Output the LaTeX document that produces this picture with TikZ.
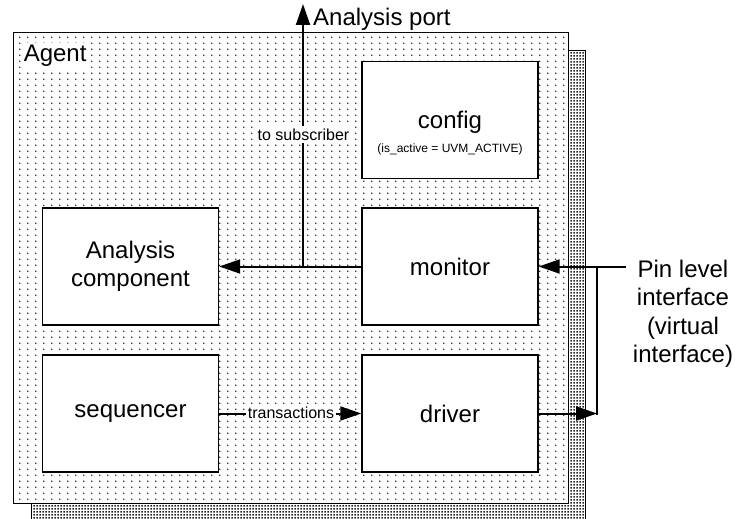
\documentclass[tikz,border=0pt]{standalone}
\usepackage{fontspec}
\setmainfont{Liberation Sans}
\usetikzlibrary{arrows.meta,patterns,calc}

% sparse dot texture for the agent panel
\pgfdeclarepatternformonly{agentdots}{\pgfpointorigin}{\pgfpoint{8.3pt}{5.8pt}}{\pgfpoint{8.3pt}{5.8pt}}{%
  \pgfpathrectangle{\pgfpoint{3.5pt}{2.2pt}}{\pgfpoint{1.2pt}{1.2pt}}%
  \pgfusepath{fill}}
% dense dot texture for the panel behind it
\pgfdeclarepatternformonly{stackdots}{\pgfpointorigin}{\pgfpoint{3pt}{3pt}}{\pgfpoint{3pt}{3pt}}{%
  \pgfpathrectangle{\pgfpoint{0.5pt}{0.5pt}}{\pgfpoint{1.9pt}{1.9pt}}%
  \pgfusepath{fill}}

\newcommand{\sizemain}{\fontsize{24}{28.5}\selectfont}
\newcommand{\sizetag}{\fontsize{16}{19}\selectfont}
\newcommand{\sizenote}{\fontsize{12}{14}\selectfont}

\begin{document}
\begin{tikzpicture}[x=1pt,y=-1pt,
  panel/.style={draw=black, line width=1.4pt, preaction={fill=white}},
  unit/.style={draw=black, line width=1.4pt, fill=white, minimum width=176pt,
    minimum height=117pt, inner sep=0pt, align=center, font=\sizemain},
  conn/.style={line width=2pt},
  arr/.style={conn, -{Triangle[length=21pt,width=14pt]}},
  tag/.style={fill=white, inner sep=2.5pt, font=\sizetag}]

\useasboundingbox (0,0) rectangle (736,519);

% stacked panels
\node[panel, pattern=stackdots, pattern color=black!85, minimum width=554pt,
  minimum height=490pt, inner sep=0pt, anchor=north west] (stack) at (31,50) {};
\node[panel, pattern=agentdots, pattern color=black!80, minimum width=555pt,
  minimum height=471pt, inner sep=0pt, anchor=north west] (agent) at (13,32) {};
\node[fill=white, inner sep=1.6pt, anchor=north west, font=\sizemain] (agentlbl) at (22,43) {Agent};

% components
\node[unit] (config) at (450,120) {};
\node[anchor=base, inner sep=0pt, font=\sizemain] (cfgname) at (450,128) {config};
\node[anchor=base, inner sep=0pt, font=\sizenote] (cfgnote) at (450,152) {(is\_active = UVM\_ACTIVE)};
\node[unit] (monitor) at (450,266.5) {monitor};
\node[unit] (driver) at (450,413.5) {driver};
\node[unit] (analysis) at (130.5,266.5) {Analysis\\component};
\node[unit] (sequencer) at (130.5,413.5) {sequencer};

% analysis port
\coordinate (tap) at (303,266.5);
\coordinate (porttop) at (303,4);
\draw[arr] (monitor.west) -- (analysis.east);
\draw[arr] (tap) -- (porttop);
\node[anchor=base west, inner sep=0pt, font=\sizemain] (portlbl) at (313,26) {Analysis port};
\node[tag] (subs) at (303.5,134.5) {to subscriber};

% transactions
\draw[arr] (sequencer.east) -- (driver.west);
\node[tag, inner sep=1.5pt] (trans) at (291,413) {transactions};

% pin level interface
\node[anchor=north, inner sep=0pt, align=center, font=\sizemain] (pins) at (683,259.8)
  {Pin level\\interface\\(virtual\\interface)};
\coordinate (pinend) at (626,266.5);
\coordinate (pinjoin) at (597,266.5);
\coordinate (drvjoin) at (597,413.5);
\draw[conn] (pinend) -- (pinjoin);
\draw[arr] (pinjoin) -- (monitor.east);
\draw[arr] (driver.east) -- (drvjoin);
\draw[conn, line cap=rect] (drvjoin) -- (pinjoin);

\end{tikzpicture}
\end{document}
